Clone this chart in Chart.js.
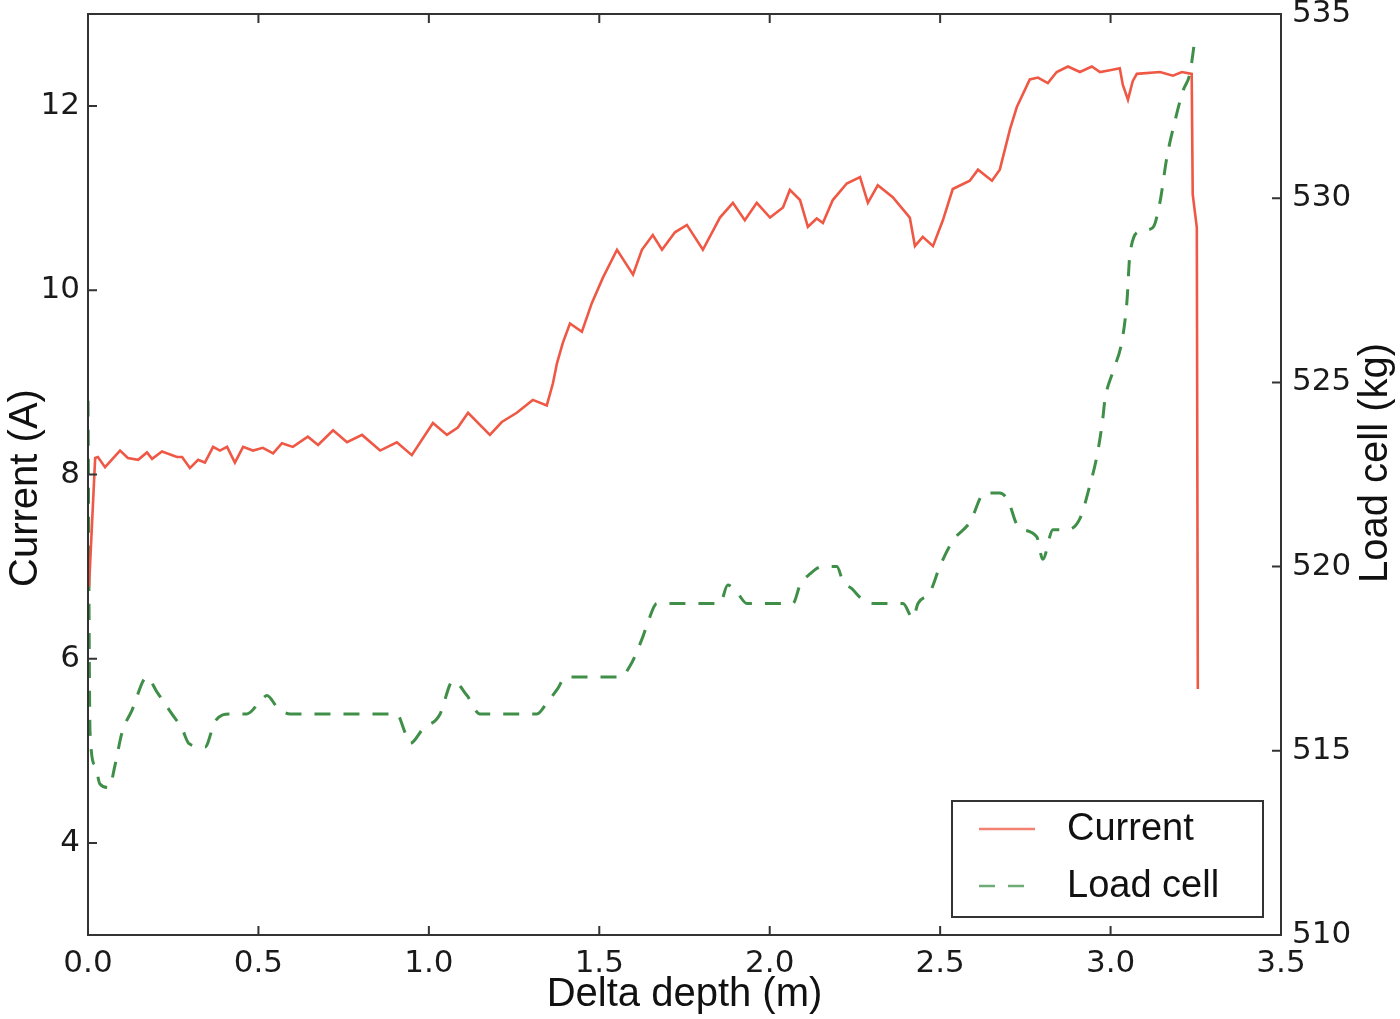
<!DOCTYPE html>
<html>
<head>
<meta charset="utf-8">
<script src="https://cdn.jsdelivr.net/npm/chart.js@4.4.1/dist/chart.umd.min.js"></script>
<style>
  html, body { margin: 0; padding: 0; background: #fff; }
  #wrap { width: 1400px; height: 1019px; }
</style>
</head>
<body>
<div id="wrap"><canvas id="loadChart" width="1400" height="1019"></canvas></div>
<script>
// depth (m) and motor current (A)
const currentDepth = [0.003, 0.021, 0.029, 0.050, 0.094, 0.117, 0.147, 0.173, 0.188, 0.217,
  0.261, 0.276, 0.299, 0.323, 0.343, 0.367, 0.387, 0.408, 0.431, 0.455,
  0.484, 0.513, 0.543, 0.569, 0.601, 0.645, 0.675, 0.719, 0.760, 0.804,
  0.857, 0.906, 0.950, 1.012, 1.053, 1.085, 1.115, 1.179, 1.214, 1.258,
  1.305, 1.346, 1.364, 1.376, 1.393, 1.414, 1.449, 1.478, 1.511, 1.552,
  1.599, 1.625, 1.657, 1.684, 1.722, 1.757, 1.804, 1.854, 1.892, 1.927,
  1.962, 2.001, 2.039, 2.059, 2.089, 2.112, 2.138, 2.156, 2.185, 2.226,
  2.265, 2.288, 2.317, 2.361, 2.411, 2.426, 2.449, 2.479, 2.508, 2.537,
  2.587, 2.611, 2.652, 2.675, 2.705, 2.725, 2.763, 2.787, 2.816, 2.842,
  2.875, 2.910, 2.945, 2.969, 2.998, 3.027, 3.036, 3.051, 3.065, 3.077,
  3.145, 3.183, 3.209, 3.238, 3.241, 3.253, 3.256];
const currentAmps = [6.78, 8.18, 8.19, 8.08, 8.26, 8.18, 8.16, 8.24, 8.17, 8.25,
  8.19, 8.19, 8.07, 8.16, 8.13, 8.30, 8.26, 8.30, 8.13, 8.30,
  8.26, 8.29, 8.23, 8.34, 8.30, 8.41, 8.32, 8.48, 8.35, 8.43,
  8.26, 8.35, 8.21, 8.56, 8.43, 8.51, 8.67, 8.43, 8.57, 8.67,
  8.81, 8.75, 8.99, 9.21, 9.43, 9.64, 9.55, 9.86, 10.14, 10.44,
  10.17, 10.44, 10.60, 10.44, 10.63, 10.71, 10.44, 10.79, 10.95, 10.76,
  10.95, 10.79, 10.90, 11.09, 10.98, 10.69, 10.78, 10.73, 10.98, 11.16,
  11.23, 10.95, 11.14, 11.01, 10.79, 10.48, 10.58, 10.48, 10.76, 11.10,
  11.19, 11.31, 11.19, 11.31, 11.75, 11.99, 12.29, 12.31, 12.25, 12.37,
  12.43, 12.37, 12.43, 12.37, 12.39, 12.41, 12.23, 12.07, 12.27, 12.35,
  12.37, 12.33, 12.37, 12.35, 11.04, 10.68, 5.67];

// depth (m) and load cell (kg)
const loadDepth = [0.000, 0.006, 0.021, 0.035, 0.062, 0.079, 0.100, 0.129, 0.173, 0.202,
  0.217, 0.246, 0.276, 0.296, 0.343, 0.373, 0.417, 0.466, 0.510, 0.525,
  0.554, 0.593, 0.906, 0.930, 0.945, 0.983, 1.033, 1.062, 1.071, 1.112,
  1.150, 1.317, 1.346, 1.379, 1.400, 1.561, 1.590, 1.628, 1.643, 1.669,
  1.854, 1.877, 1.904, 1.933, 2.068, 2.089, 2.118, 2.153, 2.197, 2.215,
  2.241, 2.273, 2.303, 2.391, 2.420, 2.435, 2.470, 2.499, 2.537, 2.587,
  2.631, 2.675, 2.699, 2.728, 2.784, 2.801, 2.831, 2.872, 2.910, 2.939,
  2.960, 2.977, 2.983, 3.007, 3.033, 3.048, 3.057, 3.086, 3.124, 3.145,
  3.165, 3.189, 3.212, 3.233, 3.247];
const loadKg = [524.5, 515.5, 514.6, 514.1, 514.0, 514.6, 515.5, 516.1, 517.0, 516.6,
  516.4, 516.0, 515.6, 515.2, 515.1, 515.8, 516.0, 516.0, 516.4, 516.5,
  516.2, 516.0, 516.0, 515.5, 515.2, 515.6, 516.0, 516.8, 516.9, 516.5,
  516.0, 516.0, 516.3, 516.7, 517.0, 517.0, 517.3, 518.1, 518.5, 519.0,
  519.0, 519.5, 519.3, 519.0, 519.0, 519.5, 519.8, 520.0, 520.0, 519.6,
  519.4, 519.1, 519.0, 519.0, 518.6, 519.0, 519.3, 520.0, 520.7, 521.2,
  522.0, 522.0, 521.8, 521.1, 520.8, 520.2, 521.0, 521.0, 521.3, 522.2,
  523.0, 524.0, 524.5, 525.3, 526.1, 527.2, 528.5, 529.1, 529.2, 529.9,
  531.1, 532.1, 532.9, 533.4, 534.3];

const depthTicks = [0.0, 0.5, 1.0, 1.5, 2.0, 2.5, 3.0, 3.5];
const currentTicks = [4, 6, 8, 10, 12];
const loadTicks = [510, 515, 520, 525, 530, 535];

const RED = '#ef5844';
const GREEN = '#3f8f48';
const FRAME = '#333';
const TICK_FONT = { family: 'DejaVu Sans', size: 31 };
const LABEL_FONT = '40px "Liberation Sans", Arial, sans-serif';

function setTicks(values) {
  return function (scale) {
    scale.ticks = values.map(v => ({ value: v }));
  };
}

function fixSize(key, size) {
  return function (scale) {
    scale[key] = size;
    scale.paddingTop = 0;
    scale.paddingBottom = 0;
    scale.paddingLeft = 0;
    scale.paddingRight = 0;
  };
}

// matplotlib-style frame, inward ticks, y titles and boxed legend
const framePlugin = {
  id: 'frame',
  afterDraw(chart) {
    const ctx = chart.ctx;
    const a = chart.chartArea;
    const x = chart.scales.x, y = chart.scales.y, y1 = chart.scales.y1;
    ctx.save();
    ctx.strokeStyle = FRAME;
    ctx.lineWidth = 2;
    ctx.strokeRect(a.left, a.top, a.right - a.left, a.bottom - a.top);

    ctx.beginPath();
    x.ticks.forEach(t => {
      const px = x.getPixelForValue(t.value);
      ctx.moveTo(px, a.bottom); ctx.lineTo(px, a.bottom - 9);
      ctx.moveTo(px, a.top); ctx.lineTo(px, a.top + 9);
    });
    y.ticks.forEach(t => {
      const py = y.getPixelForValue(t.value);
      ctx.moveTo(a.left, py); ctx.lineTo(a.left + 9, py);
    });
    y1.ticks.forEach(t => {
      const py = y1.getPixelForValue(t.value);
      ctx.moveTo(a.right, py); ctx.lineTo(a.right - 9, py);
    });
    ctx.stroke();

    // y axis titles, both reading bottom to top
    ctx.fillStyle = '#111';
    ctx.font = LABEL_FONT;
    ctx.textAlign = 'center';
    ctx.textBaseline = 'middle';
    ctx.save();
    ctx.translate(26, 488);
    ctx.rotate(-Math.PI / 2);
    ctx.fillText('Current (A)', 0, 0);
    ctx.restore();
    ctx.save();
    ctx.translate(1376, 463);
    ctx.rotate(-Math.PI / 2);
    ctx.fillText('Load cell (kg)', 0, 0);
    ctx.restore();

    // legend box
    const bw = 311, bh = 116;
    const bx = a.right - 18 - bw, by = a.bottom - 18 - bh;
    ctx.fillStyle = '#fff';
    ctx.fillRect(bx, by, bw, bh);
    ctx.strokeStyle = FRAME;
    ctx.lineWidth = 2;
    ctx.strokeRect(bx, by, bw, bh);
    chart.data.datasets.forEach((ds, i) => {
      const ly = by + 28 + i * 57;
      ctx.strokeStyle = ds.borderColor;
      ctx.lineWidth = 2.5;
      ctx.globalAlpha = 0.75;
      ctx.setLineDash(ds.borderDash || []);
      ctx.beginPath();
      ctx.moveTo(bx + 27, ly);
      ctx.lineTo(bx + 83, ly);
      ctx.stroke();
      ctx.setLineDash([]);
      ctx.globalAlpha = 1;
      ctx.fillStyle = '#111';
      ctx.font = '38px "Liberation Sans", Arial, sans-serif';
      ctx.textAlign = 'left';
      ctx.fillText(ds.label, bx + 115, ly + 1);
    });
    ctx.restore();
  }
};

function drawChart() {
  const ctx = document.getElementById('loadChart').getContext('2d');
  new Chart(ctx, {
    type: 'line',
    data: {
      datasets: [{
        label: 'Current',
        data: currentDepth.map((d, i) => ({ x: d, y: currentAmps[i] })),
        borderColor: RED,
        borderWidth: 2.6,
        pointRadius: 0,
        tension: 0,
        yAxisID: 'y'
      }, {
        label: 'Load cell',
        data: loadDepth.map((d, i) => ({ x: d, y: loadKg[i] })),
        borderColor: GREEN,
        borderWidth: 3,
        borderDash: [16, 13],
        pointRadius: 0,
        cubicInterpolationMode: 'monotone',
        yAxisID: 'y1'
      }]
    },
    options: {
      responsive: false,
      animation: false,
      devicePixelRatio: 1,
      layout: { padding: { top: 14, left: 0, right: 0, bottom: 0 } },
      plugins: {
        legend: { display: false },
        tooltip: { enabled: false }
      },
      scales: {
        x: {
          type: 'linear',
          position: 'bottom',
          min: 0,
          max: 3.5,
          afterBuildTicks: setTicks(depthTicks),
          afterFit: fixSize('height', 84),
          grid: { display: false, drawTicks: false },
          border: { display: false },
          ticks: {
            font: TICK_FONT,
            color: '#1a1a1a',
            padding: 10,
            maxRotation: 0,
            callback: v => v.toFixed(1)
          },
          title: {
            display: true,
            text: 'Delta depth (m)',
            color: '#111',
            font: { family: 'Liberation Sans', size: 40 },
            padding: { top: 0, bottom: 0 }
          }
        },
        y: {
          type: 'linear',
          position: 'left',
          min: 3,
          max: 13,
          afterBuildTicks: setTicks(currentTicks),
          afterFit: fixSize('width', 88),
          grid: { display: false, drawTicks: false },
          border: { display: false },
          ticks: { font: TICK_FONT, color: '#1a1a1a', padding: 8 }
        },
        y1: {
          type: 'linear',
          position: 'right',
          min: 510,
          max: 535,
          afterBuildTicks: setTicks(loadTicks),
          afterFit: fixSize('width', 119),
          grid: { display: false, drawTicks: false },
          border: { display: false },
          ticks: { font: TICK_FONT, color: '#1a1a1a', padding: 11 }
        }
      }
    },
    plugins: [framePlugin]
  });
}

window.onload = drawChart;
</script>
</body>
</html>
